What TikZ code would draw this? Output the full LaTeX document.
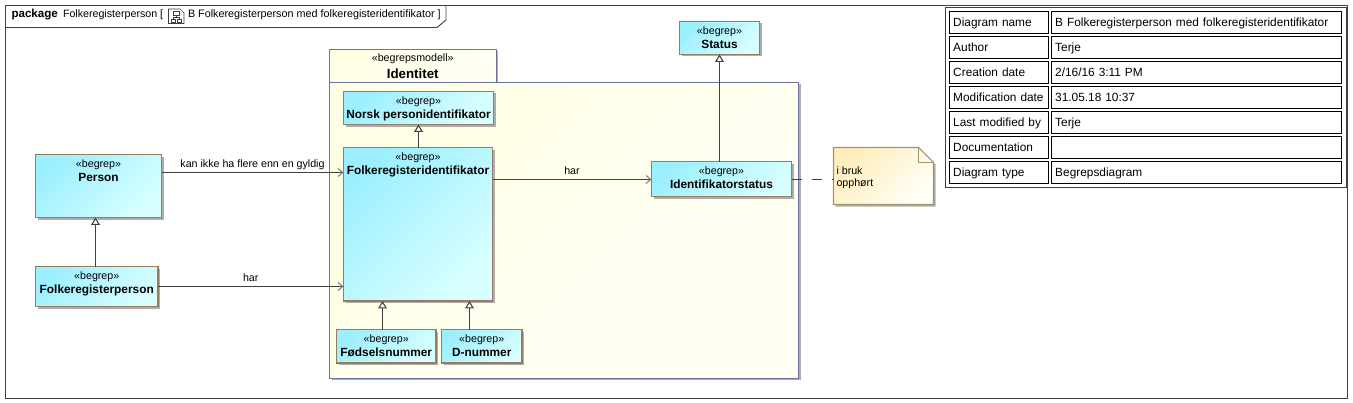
\documentclass[tikz,border=0pt]{standalone}
\usepackage{fontspec}
\setmainfont{Liberation Sans}
\usetikzlibrary{arrows.meta,shadows}
\definecolor{framecol}{HTML}{404040}
\definecolor{boxcol}{HTML}{997B5F}
\definecolor{pkgcol}{HTML}{6C749F}
\definecolor{notecol}{HTML}{A3956B}
\definecolor{shadowcol}{HTML}{ADADAD}
\definecolor{begrepleft}{HTML}{9CEFFF}
\definecolor{begrepright}{HTML}{D8FFFF}
\definecolor{pkgleft}{HTML}{FFFFE6}
\definecolor{pkgright}{HTML}{FFFFF4}
\definecolor{noteleft}{HTML}{FFEDBB}
\definecolor{noteright}{HTML}{FFFFF8}
\newlength\pxunit
\setlength\pxunit{0.75pt}
\newcommand{\begrepbox}[3]{\parbox[t][#2\pxunit][t]{#1\pxunit}{\centering\vspace*{3.6pt}«begrep»\\\fontsize{8.9}{11}\selectfont\textbf{#3}}}
\begin{document}
\begin{tikzpicture}[x=0.75pt,y=-0.75pt,outer sep=0pt,
  font=\fontsize{8}{11}\selectfont,
  boxshadow/.style={drop shadow={shadow xshift=1.5pt,shadow yshift=-1.5pt,fill=shadowcol,opacity=1}},
  begrep/.style={draw=boxcol,line width=0.8pt,anchor=north west,inner sep=0pt,boxshadow,
    left color=begrepleft,right color=begrepright,shading angle=45},
  pkg/.style={draw=pkgcol,line width=0.75pt,anchor=north west,inner sep=0pt,boxshadow,
    left color=pkgleft,right color=pkgright,shading angle=45},
  gen/.style={draw=framecol,line width=0.8pt,-{Triangle[open,fill=white,length=5.5pt,width=6.5pt]}},
  assoc/.style={draw=framecol,line width=0.8pt,-{Straight Barb[length=3.5pt,width=6pt,color=gray]}},
  edgelabel/.style={above,inner xsep=0pt,inner ysep=3.75pt,text depth=0pt},
  cell/.style={draw=black,line width=0.7pt,anchor=north west,inner sep=0pt,minimum height=21.7*0.75pt,text height=6.5pt,text depth=0.5pt,font=\fontsize{8.9}{11}\selectfont}]
\useasboundingbox (0,0) rectangle (1353,403);

% ramme
\node[draw=framecol,line width=0.7pt,anchor=north west,inner sep=0pt,minimum width=1341.7*0.75pt,minimum height=393*0.75pt] (frame) at (5.5,5.5) {};
\draw[draw=framecol,line width=0.7pt] (5.5,27.5) -- (437,27.5) -- (446,20) -- (446,5.5);
\node[anchor=west,inner sep=0pt,font=\fontsize{8.7}{11}\selectfont\bfseries] (kind) at (11.5,14.5) {package};
\node[anchor=west,inner sep=0pt] (owner) at (63,14.5) {Folkeregisterperson [};
\node[anchor=west,inner sep=0pt,font=\fontsize{8.1}{11}\selectfont] (title) at (188,14.5) {B Folkeregisterperson med folkeregisteridentifikator ]};

% ikon
\draw[framecol,line width=0.5pt] (168.5,9) -- (180,9) -- (184,13) -- (184,23.5) -- (168.5,23.5) -- cycle;
\draw[framecol,line width=0.5pt] (173,11) rectangle (179,15) (171,19) rectangle (175.5,22) (177,19) rectangle (181.5,22)
  (176,15) -- (176,17) (173,19) -- (173,17) -- (179,17) -- (179,19);

% pakke
\node[pkg,minimum width=166.5*0.75pt,minimum height=33*0.75pt,align=center] (pkgtab) at (329.5,49.5) {};
\node[pkg,minimum width=469*0.75pt,minimum height=295.5*0.75pt] (pkgbody) at (329.5,82.5) {};
\node[inner sep=0pt] (pkgstereo) at (pkgtab.center |- 0,58.7) {«begrepsmodell»};
\node[inner sep=0pt,font=\fontsize{10}{12}\selectfont\bfseries] (pkgname) at (pkgtab.center |- 0,74) {Identitet};

% begreper
\node[begrep] (status) at (679.5,21.5) {\begrepbox{80}{33}{Status}};
\node[begrep] (norsk) at (343.5,91.5) {\begrepbox{150}{33}{Norsk personidentifikator}};
\node[begrep] (fid) at (343.5,147.5) {\begrepbox{149}{153.5}{Folkeregisteridentifikator}};
\node[begrep] (idstatus) at (651.5,161.5) {\begrepbox{140}{35}{Identifikatorstatus}};
\node[begrep] (person) at (35.5,154.5) {\begrepbox{126}{63}{Person}};
\node[begrep] (fperson) at (35.5,266.5) {\begrepbox{122.5}{40}{Folkeregisterperson}};
\node[begrep] (fnr) at (336.5,329.5) {\begrepbox{99.5}{33.5}{Fødselsnummer}};
\node[begrep] (dnr) at (441.5,329.5) {\begrepbox{80.5}{33.5}{D-nummer}};

% notat
\draw[draw=notecol,line width=0.8pt,boxshadow,left color=noteleft,right color=noteright,shading angle=45]
  (833.5,147.5) -- (918.5,147.5) -- (933.5,162.5) -- (933.5,204.5) -- (833.5,204.5) -- cycle;
\draw[draw=notecol,line width=0.8pt] (918.5,147.5) -- (918.5,162.5) -- (933.5,162.5);
\node[anchor=west,align=left,inner xsep=2.25pt,inner ysep=0pt,font=\fontsize{8}{9}\selectfont] (note) at (833.5,177.5) {i bruk\\opphørt};

% koblinger
\coordinate (upper) at (250,172.5);
\coordinate (lower) at (250,286.5);
\coordinate (right) at (570,179.5);
\draw[assoc] (person.east |- upper) -- node[edgelabel] (kanikke) {kan ikke ha flere enn en gyldig} (fid.west |- upper);
\draw[assoc] (fperson.east |- lower) -- node[edgelabel] (har1) {har} (fid.west |- lower);
\draw[assoc] (fid.east |- right) -- node[edgelabel] (har2) {har} (idstatus.west |- right);
\draw[draw=framecol,line width=0.8pt,dash pattern=on 7.5pt off 7.5pt] (idstatus.east |- right) -- (note.west |- right);
\draw[gen] ([xshift=-0.94pt]fperson.north) -- ([xshift=-0.94pt]fperson.north |- person.south);
\draw[gen] (norsk.south |- fid.north) -- (norsk.south);
\draw[gen] ([xshift=-2.8pt]fnr.north) -- ([xshift=-2.8pt]fnr.north |- fid.south);
\draw[gen] ([xshift=-9.2pt]dnr.north) -- ([xshift=-9.2pt]dnr.north |- fid.south);
\draw[gen] (status.south |- idstatus.north) -- (status.south);

% tabell
\node[draw=framecol,line width=0.7pt,fill=white,anchor=north west,inner sep=0pt,minimum width=401.2*0.75pt,minimum height=180*0.75pt] (infotable) at (945.5,7.5) {};
\foreach \i/\k/\v in {0/Diagram name/B Folkeregisterperson med folkeregisteridentifikator,
    1/Author/Terje, 2/Creation date/{2/16/16 3:11 PM}, 3/Modification date/31.05.18 10:37,
    4/Last modified by/Terje, 5/Documentation/, 6/Diagram type/Begrepsdiagram} {
  \node[cell,text width=68.65pt,inner xsep=2.8pt,align=left] (key\i) at (949.5,11.5+25*\i) {\k};
  \node[cell,text width=212.1pt,inner xsep=2.8pt,align=left] (val\i) at (1051.5,11.5+25*\i) {\v};
}
\end{tikzpicture}
\end{document}
